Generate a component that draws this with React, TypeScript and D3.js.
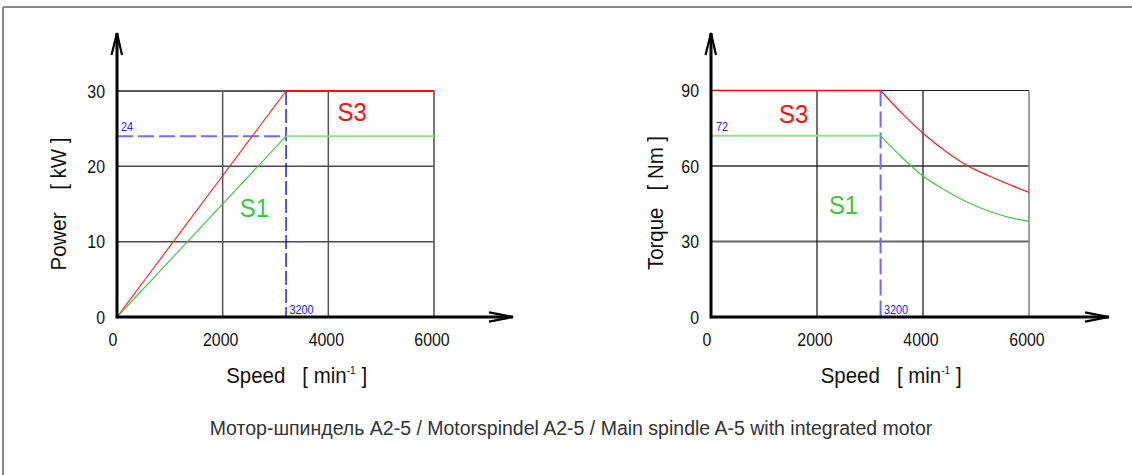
import React from "react";
import * as d3 from "d3";

// ---------- data ----------
const speedTicks = [0, 2000, 4000, 6000];
const powerTicks = [0, 10, 20, 30];
const torqueTicks = [0, 30, 60, 90];
const maxSpeed = 6000;
const cornerSpeed = 3200;

const powerSpeed = [0, 3200, 6000];
const powerS3 = [0, 30, 30];
const powerS1 = [0, 24, 24];
const powerS1Rated = 24;

const torqueFlatSpeed = [0, 3200];
const torqueS3Flat = [90, 90];
const torqueS1Flat = [72, 72];
const torqueS1Rated = 72;
const torqueCurveSpeed = [3200, 3600, 4000, 4450, 4850, 5250, 5700, 6000];
const torqueS3Curve = [90, 81, 73, 65.5, 60, 56, 52, 49.5];
const torqueS1Curve = [72, 63.5, 56, 50, 45.5, 42, 39.2, 38];

const caption =
  "Мотор-шпиндель A2-5 / Motorspindel A2-5 / Main spindle A-5 with integrated motor";

const FONT = "'Liberation Sans', Arial, sans-serif";
const NB = "\u00A0";

type TProps = {
  x: number;
  y: number;
  size: number;
  sx?: number;
  rotate?: number;
  anchor?: "start" | "middle" | "end";
  fill?: string;
  children: React.ReactNode;
};
function T({ x, y, size, sx = 1, rotate = 0, anchor = "start", fill = "#111", children }: TProps) {
  return (
    <text
      transform={`translate(${x},${y}) rotate(${rotate}) scale(${sx},1)`}
      fontSize={size}
      fontFamily={FONT}
      textAnchor={anchor}
      fill={fill}
    >
      {children}
    </text>
  );
}

type ChartProps = {
  x0: number;
  x1: number;
  arrowX: number;
  yMax: number;
  yTicks: number[];
  title: string;
  titleX: number;
  titleY: number;
  kind: "power" | "torque";
};

function Chart({ x0, x1, arrowX, yMax, yTicks, title, titleX, titleY, kind }: ChartProps) {
  const yBase = 317;
  const yTop = kind === "power" ? 91 : 90.5;
  const arrowY = 33;
  const x = d3.scaleLinear().domain([0, maxSpeed]).range([x0, x1]);
  const y = d3.scaleLinear().domain([0, yMax]).range([yBase, yTop]);
  const line = d3
    .line<[number, number]>()
    .x((d) => x(d[0]))
    .y((d) => y(d[1]));
  const curve = d3
    .line<[number, number]>()
    .x((d) => x(d[0]))
    .y((d) => y(d[1]))
    .curve(d3.curveMonotoneX);
  const zip = (a: number[], b: number[]) => a.map((v, i) => [v, b[i]] as [number, number]);
  const xc = x(cornerSpeed);

  const isPower = kind === "power";
  const hGridColor = isPower ? "#4a4a4a" : "#666";
  const vGridColor = isPower ? "#555" : "#111";

  return (
    <g>
      {/* grid */}
      {yTicks.slice(1).map((t) => (
        <line
          key={"h" + t}
          x1={x0}
          x2={x1}
          y1={y(t)}
          y2={y(t)}
          stroke={t === yMax ? "#222" : hGridColor}
          strokeWidth={t === yMax ? (isPower ? 1.5 : 1.2) : isPower ? 1.5 : 2}
        />
      ))}
      {speedTicks.slice(1).map((t) => (
        <line
          key={"v" + t}
          x1={x(t)}
          x2={x(t)}
          y1={yTop}
          y2={yBase}
          stroke={t === maxSpeed ? (isPower ? "#555" : "#888") : vGridColor}
          strokeWidth={t === maxSpeed ? 1.6 : isPower ? 1.5 : 1.2}
        />
      ))}

      {/* curves */}
      {isPower ? (
        <g fill="none">
          <line
            x1={x0}
            x2={xc}
            y1={y(powerS1Rated)}
            y2={y(powerS1Rated)}
            stroke="#6f6fff"
            strokeWidth={2}
            strokeDasharray="16,5"
          />
          <line x1={xc} x2={xc} y1={yTop} y2={yBase} stroke="#0000d8" strokeWidth={1.3} strokeDasharray="14,4" />
          <path d={line(zip(powerSpeed.slice(0, 2), powerS3.slice(0, 2))) || ""} stroke="#ff1a1a" strokeWidth={1.1} />
          <path d={line(zip(powerSpeed.slice(1), powerS3.slice(1))) || ""} stroke="#e01818" strokeWidth={2} />
          <path d={line(zip(powerSpeed.slice(0, 2), powerS1.slice(0, 2))) || ""} stroke="#3fc43f" strokeWidth={1.1} />
          <path d={line(zip(powerSpeed.slice(1), powerS1.slice(1))) || ""} stroke="#90e090" strokeWidth={2} />
        </g>
      ) : (
        <g fill="none">
          <line x1={xc} x2={xc} y1={yTop} y2={yBase} stroke="#6b6bff" strokeWidth={2} strokeDasharray="16,5" />
          <path d={line(zip(torqueFlatSpeed, torqueS3Flat)) || ""} stroke="#ff1010" strokeWidth={1.4} />
          <path d={curve(zip(torqueCurveSpeed, torqueS3Curve)) || ""} stroke="#ff1a1a" strokeWidth={1.2} />
          <path d={line(zip(torqueFlatSpeed, torqueS1Flat)) || ""} stroke="#90e090" strokeWidth={2} />
          <path d={curve(zip(torqueCurveSpeed, torqueS1Curve)) || ""} stroke="#44c444" strokeWidth={1.2} />
        </g>
      )}

      {/* axes */}
      <line x1={x0} x2={arrowX} y1={yBase} y2={yBase} stroke="#000" strokeWidth={3} />
      <line x1={x0} x2={x0} y1={yBase + 1.5} y2={arrowY} stroke="#000" strokeWidth={3} />
      <polyline
        points={`${arrowX - 24},${yBase - 4.7} ${arrowX},${yBase} ${arrowX - 24},${yBase + 4.7}`}
        fill="none"
        stroke="#000"
        strokeWidth={2.2}
      />
      <polyline
        points={`${x0 - 5.5},${arrowY + 22} ${x0},${arrowY} ${x0 + 5},${arrowY + 22}`}
        fill="none"
        stroke="#000"
        strokeWidth={2.2}
      />

      {/* tick labels */}
      {yTicks.map((t) => (
        <T key={"yl" + t} x={x0 - 12} y={y(t) + 6.6} size={18.5} sx={0.86} anchor="end">
          {t}
        </T>
      ))}
      {speedTicks.map((t) => (
        <T key={"xl" + t} x={x(t) - (t === 0 ? 4 : 2)} y={345.5} size={18.5} sx={0.86} anchor="middle">
          {t}
        </T>
      ))}

      {/* reference labels */}
      {isPower ? (
        <T x={x0 + 4} y={y(powerS1Rated) - 5} size={12} sx={0.9} fill="#2020ff">
          {powerS1Rated}
        </T>
      ) : (
        <T x={x0 + 5} y={y(torqueS1Rated) - 5} size={12} sx={0.9} fill="#2020ff">
          {torqueS1Rated}
        </T>
      )}
      <T x={xc + 3.5} y={yBase - 3.5} size={12} sx={0.9} fill="#2020ff">
        {cornerSpeed}
      </T>

      {/* series labels */}
      {isPower ? (
        <>
          <T x={x(4450)} y={121} size={26} sx={0.92} anchor="middle" fill="#ff1010">
            S3
          </T>
          <T x={x(2600)} y={217} size={26} sx={0.92} anchor="middle" fill="#3fc43f">
            S1
          </T>
        </>
      ) : (
        <>
          <T x={x(1560)} y={123} size={26} sx={0.92} anchor="middle" fill="#ff1010">
            S3
          </T>
          <T x={x(2500)} y={214} size={26} sx={0.92} anchor="middle" fill="#3fc43f">
            S1
          </T>
        </>
      )}

      {/* axis titles */}
      <T x={titleX} y={titleY} size={22} sx={0.93} rotate={-90} anchor="middle">
        {title}
      </T>
      <text
        transform={`translate(${x(3400)},383) scale(0.93,1)`}
        fontSize={22}
        fontFamily={FONT}
        textAnchor="middle"
        fill="#111"
      >
        {`Speed${NB}${NB}${NB}[${NB}min`}
        <tspan fontSize={11} dy={-9}>
          {"-1"}
        </tspan>
        <tspan dy={9}>{`${NB}]`}</tspan>
      </text>
    </g>
  );
}

export default function App() {
  return (
    <svg
      width={1132}
      height={475}
      style={{ position: "absolute", left: 0, top: 0, background: "#fff" }}
    >
      <rect x={0} y={0} width={1132} height={475} fill="#fff" />
      <line x1={3} x2={1132} y1={7} y2={7} stroke="#888" strokeWidth={2} />
      <line x1={3} x2={3} y1={7} y2={475} stroke="#888" strokeWidth={2} />
      <Chart
        x0={117}
        x1={434}
        arrowX={513}
        yMax={30}
        yTicks={powerTicks}
        title={`Power${NB}${NB}${NB}${NB}[${NB}kW${NB}]`}
        titleX={66}
        titleY={204}
        kind="power"
      />
      <Chart
        x0={711}
        x1={1029}
        arrowX={1109}
        yMax={90}
        yTicks={torqueTicks}
        title={`Torque${NB}${NB}${NB}[${NB}Nm${NB}]`}
        titleX={663}
        titleY={203}
        kind="torque"
      />
      <T x={571} y={435} size={19.5} sx={1.0} anchor="middle" fill="#333">
        {caption}
      </T>
    </svg>
  );
}
